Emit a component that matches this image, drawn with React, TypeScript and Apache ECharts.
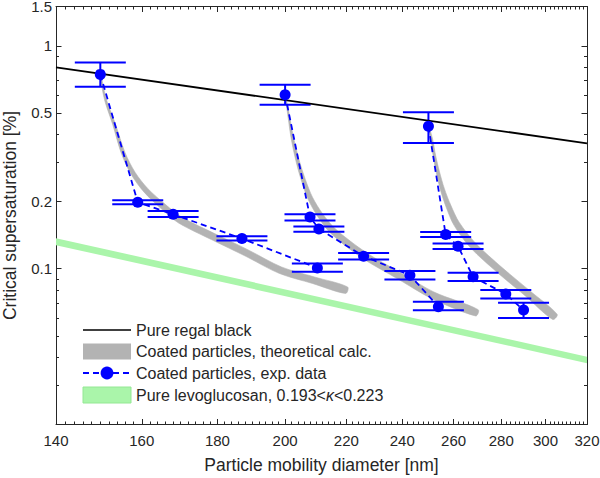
import React, { useEffect, useRef } from 'react';
import * as echarts from 'echarts';

// Pure regal black (straight in log-log)
const regalD = [140, 320];
const regalSc = [0.8, 0.365];

// Pure levoglucosan band, 0.193<κ<0.223
const levoD = [140, 320];
const levoScUpper = [0.137, 0.0403];
const levoScLower = [0.1275, 0.0377];

// Coated particles, theoretical calc. (band centre lines)
const theoD1 = [150.0, 150.6, 151.4, 153.2, 155.5, 157.9, 161.0, 165.6, 169.9, 178.9, 188.7, 198.5, 209.0, 220.1];
const theoSc1 = [0.744, 0.644, 0.557, 0.447, 0.328, 0.267, 0.225, 0.189, 0.165, 0.139, 0.117, 0.0985, 0.0888, 0.0801];
const theoD2 = [200.2, 200.7, 202.2, 203.9, 205.8, 208.0, 211.2, 215.6, 226.1, 239.1, 251.6, 269.6];
const theoSc2 = [0.57, 0.529, 0.39, 0.306, 0.249, 0.207, 0.174, 0.147, 0.115, 0.0926, 0.0761, 0.0634];
const theoD3 = [250.0, 251.4, 252.3, 253.7, 255.5, 257.9, 261.2, 268.0, 279.4, 291.6, 304.4];
const theoSc3 = [0.435, 0.376, 0.3225, 0.271, 0.227, 0.191, 0.159, 0.127, 0.0985, 0.0777, 0.0608];

// Coated particles, exp. data
const expD1 = [150.0, 159.0, 168.0, 187.0, 210.3];
const expSc1 = [0.744, 0.1986, 0.1754, 0.1365, 0.1008];
const expLo1 = [0.655, 0.1946, 0.1706, 0.1339, 0.0968];
const expHi1 = [0.842, 0.2027, 0.1816, 0.1397, 0.1055];

const expD2 = [200.0, 207.9, 210.8, 226.0, 242.9, 253.9];
const expSc2 = [0.603, 0.1706, 0.1508, 0.1138, 0.0935, 0.0675];
const expLo2 = [0.544, 0.1644, 0.1463, 0.11, 0.0895, 0.0651];
const expHi2 = [0.669, 0.1755, 0.1548, 0.1177, 0.0977, 0.071];

const expD3 = [250.0, 256.8, 261.8, 268.0, 282.0, 289.9];
const expSc3 = [0.435, 0.1422, 0.1261, 0.0919, 0.0769, 0.0652];
const expLo3 = [0.366, 0.1387, 0.1227, 0.088, 0.0734, 0.0601];
const expHi3 = [0.503, 0.1461, 0.1297, 0.0958, 0.0802, 0.0703];

// axes
const xTicks = [140, 160, 180, 200, 220, 240, 260, 280, 300, 320];
const yTicks = [0.1, 0.2, 0.5, 1, 1.5];
const yMinorTicks = [0.03, 0.04, 0.05, 0.06, 0.07, 0.08, 0.09, 0.3, 0.4, 0.6, 0.7, 0.8, 0.9];
const xMinorTicks: number[] = [];
for (let d = 142; d < 320; d += 2) if (d % 20 !== 0) xMinorTicks.push(d);

const X_MIN = 140;
const X_MAX = 320;
const Y_MIN = 0.02;
const Y_MAX = 1.5;

const regalName = 'Pure regal black';
const theoName = 'Coated particles, theoretical calc.';
const expName = 'Coated particles, exp. data';
const levoName = 'Pure levoglucosan, 0.193<κ<0.223';

const lg = Math.log10;
const font = "'Liberation Sans', Arial, Helvetica, sans-serif";
const ink = '#262626';
const blue = '#0000ff';
const grey = '#b3b3b3';
const green = '#aaf5aa';

// gray band: thin where the calculation starts, widening along the curve
const BAND_MIN = 1;
const BAND_MAX = 6.8;

const App: React.FC = () => {
  const chartRef = useRef<HTMLDivElement>(null);

  useEffect(() => {
    if (!chartRef.current) return;
    document.body.style.margin = '0';
    const chart = echarts.init(chartRef.current, undefined, { renderer: 'svg' });

    const theoCurves = [
      [theoD1, theoSc1],
      [theoD2, theoSc2],
      [theoD3, theoSc3],
    ];

    const expGroups = [
      [expD1, expSc1, expLo1, expHi1],
      [expD2, expSc2, expLo2, expHi2],
      [expD3, expSc3, expLo3, expHi3],
    ];

    const errData: number[][] = [];
    expGroups.forEach(([d, s, lo, hi]) => {
      d.forEach((v, i) => errData.push([lg(v), lg(s[i]), lg(lo[i]), lg(hi[i])]));
    });

    const xAxisBase = { type: 'value', min: lg(X_MIN), max: lg(X_MAX), splitLine: { show: false } };
    const yAxisBase = { type: 'value', min: lg(Y_MIN), max: lg(Y_MAX), splitLine: { show: false } };
    const xMajor = xTicks.map(lg);
    const xMinor = xMinorTicks.map(lg);
    const yMajor = yTicks.map(lg);
    const yMinor = yMinorTicks.map(lg);
    const line = { show: true, onZero: false, lineStyle: { color: ink, width: 1 } };
    const noLine = { show: false, onZero: false };
    const tick = (vals: number[], len: number) => ({
      show: true,
      inside: true,
      length: len,
      customValues: vals,
      lineStyle: { color: ink, width: 1 },
    });

    const option: any = {
      animation: false,
      grid: [
        { left: 56, right: 13, top: 6.5, bottom: 53.5, outerBoundsMode: 'none' },
        { left: 56, right: 13, top: 6.5, bottom: 53.5, outerBoundsMode: 'none' },
      ],
      xAxis: [
        {
          ...xAxisBase,
          gridIndex: 0,
          position: 'bottom',
          axisLine: line,
          axisTick: tick(xMajor, 5.5),
          axisLabel: {
            customValues: xMajor,
            formatter: (v: number) => String(Math.round(Math.pow(10, v))),
            color: ink,
            fontSize: 15,
            fontFamily: font,
            margin: 8,
          },
          name: 'Particle mobility diameter [nm]',
          nameLocation: 'middle',
          nameGap: 31,
          nameTextStyle: { color: ink, fontSize: 17.5, fontFamily: font },
        },
        {
          ...xAxisBase,
          gridIndex: 0,
          position: 'top',
          axisLine: line,
          axisTick: tick(xMajor, 5.5),
          axisLabel: { show: false },
        },
        {
          ...xAxisBase,
          gridIndex: 1,
          position: 'bottom',
          axisLine: noLine,
          axisTick: tick(xMinor, 3),
          axisLabel: { show: false },
        },
        {
          ...xAxisBase,
          gridIndex: 1,
          position: 'top',
          axisLine: noLine,
          axisTick: tick(xMinor, 3),
          axisLabel: { show: false },
        },
      ],
      yAxis: [
        {
          ...yAxisBase,
          gridIndex: 0,
          position: 'left',
          axisLine: line,
          axisTick: tick(yMajor, 5.5),
          axisLabel: {
            customValues: yMajor,
            formatter: (v: number) => String(Number(Math.pow(10, v).toPrecision(2))),
            color: ink,
            fontSize: 15,
            lineHeight: 12,
            fontFamily: font,
            margin: 4,
          },
          name: 'Critical supersaturation [%]',
          nameLocation: 'middle',
          nameRotate: 90,
          nameGap: 37,
          nameTextStyle: { color: ink, fontSize: 17.5, fontFamily: font },
        },
        {
          ...yAxisBase,
          gridIndex: 0,
          position: 'right',
          axisLine: line,
          axisTick: tick(yMajor, 5.5),
          axisLabel: { show: false },
        },
        {
          ...yAxisBase,
          gridIndex: 1,
          position: 'left',
          axisLine: noLine,
          axisTick: tick(yMinor, 3),
          axisLabel: { show: false },
        },
        {
          ...yAxisBase,
          gridIndex: 1,
          position: 'right',
          axisLine: noLine,
          axisTick: tick(yMinor, 3),
          axisLabel: { show: false },
        },
      ],
      legend: {
        orient: 'vertical',
        left: 82,
        top: 322,
        padding: 0,
        itemWidth: 48,
        itemHeight: 16,
        itemGap: 5.5,
        selectedMode: false,
        textStyle: {
          color: ink,
          fontSize: 16,
          fontFamily: font,
          lineHeight: 16,
          rich: { k: { fontStyle: 'italic', fontSize: 16, fontFamily: font, color: ink } },
        },
        formatter: (name: string) => name.replace('κ', '{k|κ}'),
        data: [
          { name: regalName, icon: 'path://M0,0H30V1H0Z' },
          { name: theoName, icon: 'rect', itemStyle: { color: grey } },
          { name: expName },
          { name: levoName, icon: 'rect', itemStyle: { color: green, borderColor: '#94e894', borderWidth: 1 } },
        ],
      },
      series: [
        {
          name: levoName,
          type: 'custom',
          xAxisIndex: 0,
          yAxisIndex: 0,
          itemStyle: { color: green },
          data: [[lg(levoD[0]), lg(levoScUpper[0])]],
          renderItem: (_params: any, api: any) => {
            const up = levoD.map((d, i) => api.coord([lg(d), lg(levoScUpper[i])]));
            const lo = levoD.map((d, i) => api.coord([lg(d), lg(levoScLower[i])])).reverse();
            return { type: 'polygon', shape: { points: [...up, ...lo] }, style: { fill: green } };
          },
        },
        {
          name: theoName,
          type: 'custom',
          xAxisIndex: 0,
          yAxisIndex: 0,
          itemStyle: { color: grey },
          data: theoCurves.map(([d, s]) => [lg(d[0]), lg(s[0])]),
          renderItem: (params: any, api: any) => {
            const [ds, ss] = theoCurves[params.dataIndex];
            const pts: number[][] = ds.map((d, i) => api.coord([lg(d), lg(ss[i])]));
            const n = pts.length;
            const arc = [0];
            for (let i = 1; i < n; i++) {
              arc.push(arc[i - 1] + Math.hypot(pts[i][0] - pts[i - 1][0], pts[i][1] - pts[i - 1][1]));
            }
            const total = arc[n - 1];
            const upper: number[][] = [];
            const lower: number[][] = [];
            pts.forEach((p, i) => {
              const a = pts[Math.max(0, i - 1)];
              const b = pts[Math.min(n - 1, i + 1)];
              const len = Math.hypot(b[0] - a[0], b[1] - a[1]) || 1;
              const nx = -(b[1] - a[1]) / len;
              const ny = (b[0] - a[0]) / len;
              const f = Math.min(1, arc[i] / (0.5 * total));
              const half = (BAND_MIN + (BAND_MAX - BAND_MIN) * f) / 2;
              upper.push([p[0] - nx * half, p[1] - ny * half]);
              lower.push([p[0] + nx * half, p[1] + ny * half]);
            });
            return {
              type: 'polygon',
              shape: { points: [...upper, ...lower.reverse()], smooth: 0.3 },
              style: { fill: grey, stroke: grey, lineWidth: 0.6 },
            };
          },
        },
        {
          name: regalName,
          type: 'line',
          xAxisIndex: 0,
          yAxisIndex: 0,
          showSymbol: false,
          symbol: 'none',
          itemStyle: { color: '#000' },
          lineStyle: { color: '#000', width: 1.8 },
          data: regalD.map((d, i) => [lg(d), lg(regalSc[i])]),
        },
        {
          name: 'exp. error',
          type: 'custom',
          xAxisIndex: 0,
          yAxisIndex: 0,
          itemStyle: { color: blue },
          data: errData,
          renderItem: (_params: any, api: any) => {
            const c = api.coord([api.value(0), api.value(1)]);
            const lo = api.coord([api.value(0), api.value(2)]);
            const hi = api.coord([api.value(0), api.value(3)]);
            const w = 25.5;
            const style = { stroke: blue, lineWidth: 2 };
            return {
              type: 'group',
              children: [
                { type: 'line', shape: { x1: c[0], y1: hi[1], x2: c[0], y2: lo[1] }, style },
                { type: 'line', shape: { x1: c[0] - w, y1: hi[1], x2: c[0] + w, y2: hi[1] }, style },
                { type: 'line', shape: { x1: c[0] - w, y1: lo[1], x2: c[0] + w, y2: lo[1] }, style },
              ],
            };
          },
        },
        ...expGroups.map(([d, s]) => ({
          name: expName,
          type: 'line',
          xAxisIndex: 0,
          yAxisIndex: 0,
          symbol: 'circle',
          symbolSize: 11,
          itemStyle: { color: blue },
          lineStyle: { color: blue, width: 1.8, type: [6, 4] },
          emphasis: { disabled: true },
          data: d.map((v, i) => [lg(v), lg(s[i])]),
        })),
      ],
    };

    chart.setOption(option);
    return () => {
      chart.dispose();
    };
  }, []);

  return <div ref={chartRef} style={{ width: '600px', height: '478px' }} />;
};

export default App;
